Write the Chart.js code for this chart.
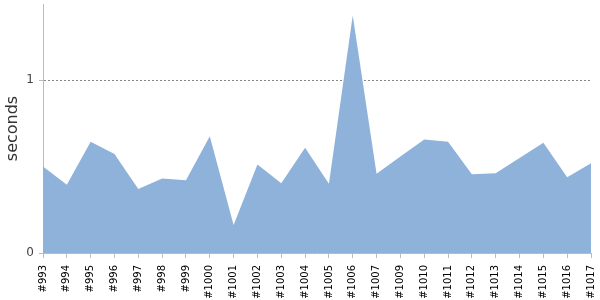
<!DOCTYPE html>
<html>
<head>
    <title>seconds</title>
    <script src="https://cdn.jsdelivr.net/npm/chart.js"></script>
    <style>
        body { margin: 0; background: #fff; }
    </style>
</head>
<body>
    <canvas id="timeChart" width="600" height="300"></canvas>

    <script>
        // build ids (#1008 is not in the run list)
        const builds = ['#993', '#994', '#995', '#996', '#997', '#998', '#999', '#1000',
            '#1001', '#1002', '#1003', '#1004', '#1005', '#1006', '#1007', '#1009',
            '#1010', '#1011', '#1012', '#1013', '#1014', '#1015', '#1016', '#1017'];

        // run time of each build, in seconds
        const seconds = [0.50, 0.394, 0.643, 0.573, 0.370, 0.431, 0.421, 0.675,
            0.162, 0.512, 0.403, 0.608, 0.400, 1.373, 0.458, 0.558,
            0.656, 0.643, 0.455, 0.461, 0.549, 0.637, 0.438, 0.519];

        const yTicks = [0, 1];

        new Chart(document.getElementById('timeChart'), {
            type: 'line',
            data: {
                labels: builds,
                datasets: [{
                    data: seconds,
                    fill: 'origin',
                    backgroundColor: '#8fb2db',
                    borderColor: '#8fb2db',
                    borderWidth: 0,
                    pointRadius: 0,
                    tension: 0
                }]
            },
            options: {
                responsive: false,
                animation: false,
                layout: { padding: { top: 4, right: 9, left: 0, bottom: 0 } },
                plugins: {
                    legend: { display: false },
                    tooltip: { enabled: false }
                },
                scales: {
                    x: {
                        afterFit: axis => {
                            axis.height = 47;
                            axis.paddingLeft = 0;
                            axis.paddingRight = 0;
                        },
                        ticks: {
                            autoSkip: false,
                            maxRotation: 90,
                            minRotation: 90,
                            color: '#000',
                            font: { family: 'DejaVu Sans', size: 10 },
                            padding: 7
                        },
                        grid: {
                            drawOnChartArea: false,
                            drawTicks: true,
                            tickLength: 5,
                            color: '#bbb'
                        },
                        border: { color: '#bbb' }
                    },
                    y: {
                        min: 0,
                        max: 1.44,
                        afterBuildTicks: axis => {
                            axis.ticks = yTicks.map(v => ({ value: v }));
                        },
                        afterFit: axis => {
                            axis.width = 43;
                            axis.paddingTop = 0;
                            axis.paddingBottom = 0;
                        },
                        ticks: {
                            color: '#444',
                            font: { family: 'DejaVu Sans', size: 12 },
                            padding: 5
                        },
                        grid: {
                            color: ctx => ctx.tick && ctx.tick.value === 0 ? 'rgba(0,0,0,0)' : '#888',
                            tickColor: '#bbb',
                            tickLength: 4
                        },
                        border: { color: '#bbb', dash: [2, 2] },
                        title: {
                            display: true,
                            text: 'seconds',
                            color: '#333',
                            font: { family: 'DejaVu Sans', size: 16 },
                            padding: { top: 3, bottom: 2 }
                        }
                    }
                }
            }
        });
    </script>
</body>
</html>
